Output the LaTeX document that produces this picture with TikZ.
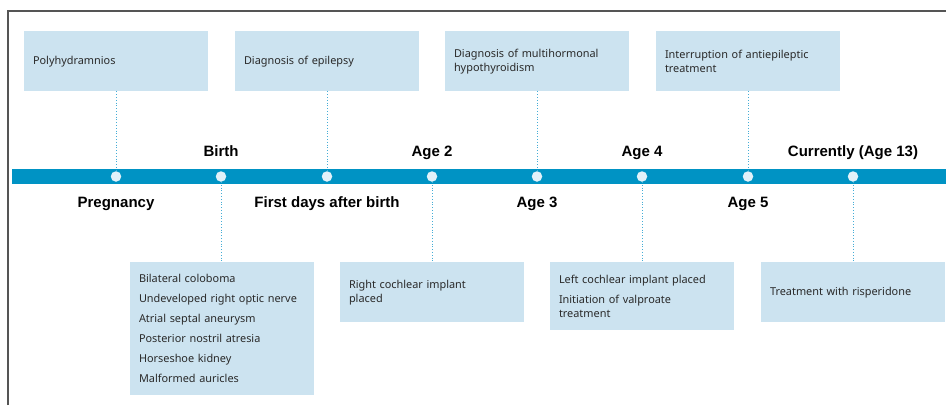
\documentclass[tikz,border=0pt]{standalone}
\usepackage{fontspec}
\setmainfont{Noto Sans}
\newfontfamily\lblfont{Liberation Sans}[BoldFont={Liberation Sans Bold}]
\definecolor{barblue}{HTML}{0093C4}
\definecolor{boxblue}{HTML}{CCE3F0}
\definecolor{dotfill}{HTML}{E2F1F9}
\definecolor{linkcol}{HTML}{45ADD6}
\definecolor{txt}{HTML}{2A2A2A}
\definecolor{frame}{HTML}{555555}
\tikzset{
  evbox/.style={fill=boxblue, draw=none, minimum width=184pt, text width=166pt,
    inner xsep=9pt, inner ysep=0pt, align=left, text=txt,
    font=\fontsize{10.9}{14}\selectfont},
  tdot/.style={circle, fill=dotfill, draw=none, minimum size=10.5pt, inner sep=0pt},
  tlabel/.style={font=\lblfont\bfseries\fontsize{15}{17}\selectfont, text=black, inner sep=0pt, anchor=base},
  link/.style={draw=linkcol, dotted, line width=0.8pt},
}
\begin{document}
\begin{tikzpicture}[x=1pt,y=-1pt]
\useasboundingbox (0,0) rectangle (946,405);
% frame
\draw[frame, line width=1.2pt] (8,405) -- (8,11) -- (946,11);
% timeline bar
\fill[barblue] (12,169) rectangle (946,184);
% dots
\foreach \n/\x in {d1/116,d2/221,d3/327,d4/432,d5/537,d6/642,d7/748,d8/853}
  \node[tdot] (\n) at (\x,176.5) {};
% top boxes
\node[evbox, minimum height=60pt, anchor=north] (b1) at (116,31) {Polyhydramnios};
\node[evbox, minimum height=60pt, anchor=north] (b2) at (327,31) {Diagnosis of epilepsy};
\node[evbox, minimum height=60pt, anchor=north] (b3) at (537,31) {Diagnosis of multihormonal\\hypothyroidism};
\node[evbox, minimum height=60pt, anchor=north] (b4) at (748,31) {Interruption of antiepileptic\\treatment};
% bottom boxes
\node[evbox, minimum height=133pt, anchor=north] (b5) at (222,262) {Bilateral coloboma\\[6pt]Undeveloped right optic nerve\\[6pt]Atrial septal aneurysm\\[6pt]Posterior nostril atresia\\[6pt]Horseshoe kidney\\[6pt]Malformed auricles};
\node[evbox, minimum height=60pt, anchor=north] (b6) at (432,262) {Right cochlear implant\\placed};
\node[evbox, minimum height=68pt, anchor=north] (b7) at (642,262) {Left cochlear implant placed\\[6pt]Initiation of valproate\\treatment};
\node[evbox, minimum height=60pt, anchor=north] (b8) at (853,262) {Treatment with risperidone};
% connectors
\draw[link] (b1.south) -- (d1.north);
\draw[link] (b2.south) -- (d3.north);
\draw[link] (b3.south) -- (d5.north);
\draw[link] (b4.south) -- (d7.north);
\draw[link] (d2.south) -- (b5.north -| d2);
\draw[link] (d4.south) -- (b6.north);
\draw[link] (d6.south) -- (b7.north);
\draw[link] (d8.south) -- (b8.north);
% labels
\node[tlabel] (l2) at (221,156) {Birth};
\node[tlabel] (l4) at (432,156) {Age 2};
\node[tlabel] (l6) at (642,156) {Age 4};
\node[tlabel] (l8) at (853,156) {Currently (Age 13)};
\node[tlabel] (l1) at (116,207) {Pregnancy};
\node[tlabel] (l3) at (327,207) {First days after birth};
\node[tlabel] (l5) at (537,207) {Age 3};
\node[tlabel] (l7) at (748,207) {Age 5};
\end{tikzpicture}
\end{document}
